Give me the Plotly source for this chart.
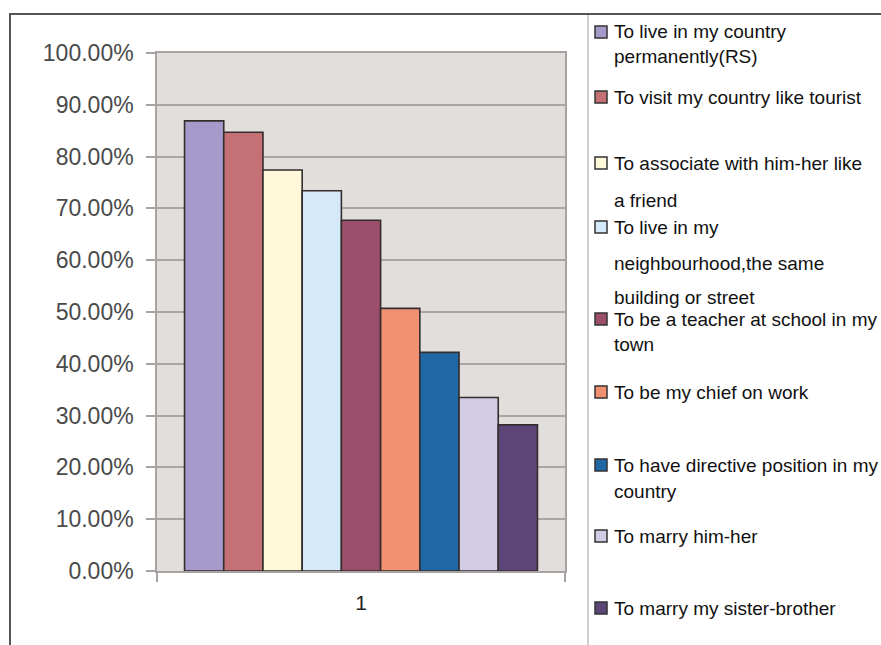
import plotly.graph_objects as go

# ---- data ----
categories = ["1"]
series_names = [
    "To live in my country<br>permanently(RS)",
    "To visit my country like tourist",
    "To associate with him-her like<br>a friend",
    "To live in my<br>neighbourhood,the same<br>building or street",
    "To be a teacher at school in my<br>town",
    "To be my chief on work",
    "To have directive position in my<br>country",
    "To marry him-her",
    "To marry my sister-brother",
]
series_values = [0.869, 0.847, 0.774, 0.734, 0.677, 0.507, 0.422, 0.335, 0.282]
y_tick_values = [0, 0.1, 0.2, 0.3, 0.4, 0.5, 0.6, 0.7, 0.8, 0.9, 1.0]

# ---- styles ----
colors = ["#A59AC9", "#C57075", "#FFF9D9", "#D5EAF8", "#9C4F6B",
          "#F09272", "#2068A5", "#D1CBE5", "#5D4677"]

W, H = 881, 645
L, R, T, B = 157, 316, 53, 74
plot_w = W - L - R
plot_h = H - T - B


def px_x(px):
    return (px - L) / plot_w


def px_y(py):
    return (H - B - py) / plot_h


fig = go.Figure()
for name, val, col in zip(series_names, series_values, colors):
    fig.add_trace(go.Bar(
        x=categories, y=[val], name=name.replace("<br>", " "),
        marker=dict(color=col, line=dict(color="#342d2d", width=1.6)),
        showlegend=False,
    ))

# legend layout (pixel positions of each text line centre)
legend_line_y = [
    [32, 57], [97], [163, 200], [227, 263, 297], [319, 344],
    [392], [465, 491], [536], [608],
]

annotations = []
shapes = []
for name, col, ys in zip(series_names, colors, legend_line_y):
    lines = name.split("<br>")
    for line, yy in zip(lines, ys):
        annotations.append(dict(
            x=px_x(612), y=px_y(yy), xref="paper", yref="paper",
            text=line, showarrow=False, xanchor="left", yanchor="middle",
            font=dict(family="Liberation Sans, Arial", size=19, color="#111"),
        ))
    shapes.append(dict(
        type="rect", xref="paper", yref="paper",
        x0=px_x(595), x1=px_x(607), y0=px_y(ys[0] + 6), y1=px_y(ys[0] - 6),
        fillcolor=col, line=dict(color="#333", width=1.5),
    ))

# outer frame lines
shapes.append(dict(type="line", xref="paper", yref="paper",
                   x0=px_x(10), x1=px_x(W + 5), y0=px_y(14), y1=px_y(14),
                   line=dict(color="#555", width=2)))
shapes.append(dict(type="line", xref="paper", yref="paper",
                   x0=px_x(10), x1=px_x(10), y0=px_y(13), y1=px_y(H + 5),
                   line=dict(color="#555", width=2)))
shapes.append(dict(type="line", xref="paper", yref="paper",
                   x0=px_x(588), x1=px_x(588), y0=px_y(15), y1=px_y(H + 5),
                   line=dict(color="#CFCFCF", width=2)))

fig.update_layout(
    width=W, height=H,
    margin=dict(l=L, r=R, t=T, b=B, pad=0),
    paper_bgcolor="white",
    plot_bgcolor="#E2DEDB",
    barmode="group", bargap=0.135, bargroupgap=0,
    annotations=annotations, shapes=shapes,
    xaxis=dict(
        type="category", showgrid=False, showline=True, mirror=True,
        linecolor="#A9A2A2", linewidth=1.5,
        ticks="outside", tickson="boundaries", ticklen=9, tickcolor="#A9A2A2",
        tickwidth=1.5, ticklabelstandoff=12,
        tickfont=dict(family="Liberation Sans, Arial", size=21, color="#222"),
    ),
    yaxis=dict(
        range=[0, 1.0], tickvals=y_tick_values, tickformat=".2%",
        showgrid=True, gridcolor="#ACA4A4", gridwidth=1.6,
        showline=True, mirror=True, linecolor="#A9A2A2", linewidth=1.5,
        ticks="outside", ticklen=9, tickcolor="#A9A2A2", tickwidth=1.5,
        ticklabelstandoff=8, zeroline=False,
        tickfont=dict(family="Liberation Sans, Arial", size=23, color="#4A4A4A"),
    ),
)

fig.write_html(
    "out.html",
    config={"displayModeBar": False},
    post_script="document.body.style.margin='0';document.body.style.overflow='hidden';",
)
